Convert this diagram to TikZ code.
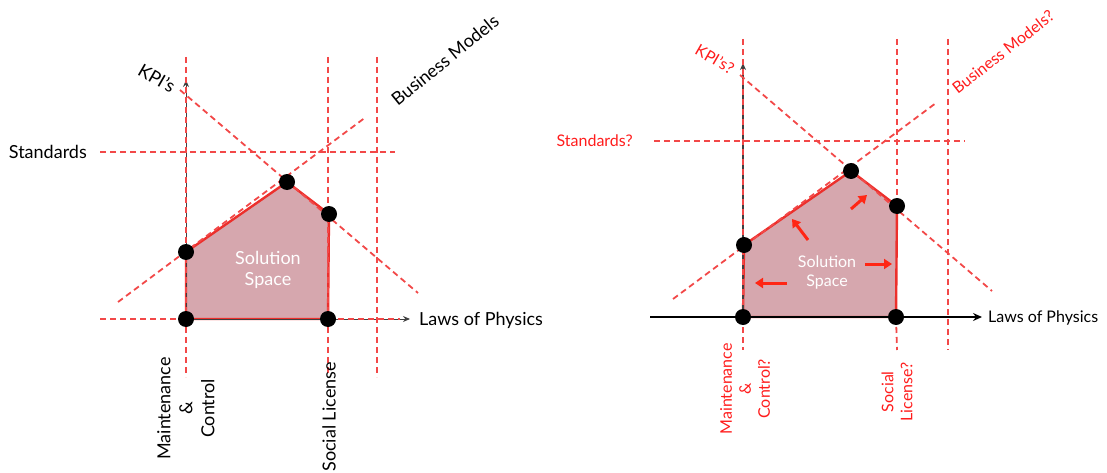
\documentclass[tikz,border=0pt]{standalone}
\usepackage{fontspec}
\setmainfont{Lato}
\usetikzlibrary{arrows.meta}
\definecolor{dashred}{RGB}{242,72,72}
\definecolor{edgered}{RGB}{236,48,44}
\definecolor{fillmauve}{RGB}{214,167,174}
\definecolor{arrred}{RGB}{255,38,20}
\definecolor{labred}{RGB}{255,28,28}
\tikzset{
  guide/.style={dashred, line width=1.8pt, dash pattern=on 6pt off 4pt},
  polyedge/.style={edgered, line width=2.4pt, line join=round},
  dot/.style={circle, fill=black, inner sep=0pt, minimum size=16pt},
  biglbl/.style={font=\fontsize{18}{22}\selectfont, inner sep=0pt},
  smalllbl/.style={font=\fontsize{16}{19}\selectfont, inner sep=0pt, text=labred},
  axisthin/.style={black!75, line width=1pt, -{Stealth[length=7pt,width=6pt]}},
  axisthick/.style={black, line width=2.2pt, -{Stealth[length=9pt,width=8pt]}},
  move/.style={arrred, line width=3pt, -{Triangle[length=8pt,width=10pt]}},
  inlbl/.style={text=white, align=center, inner sep=0pt}
}
\begin{document}
\begin{tikzpicture}[x=1pt,y=-1pt]
\useasboundingbox (0,0) rectangle (1107,473);
% ---------------- left diagram ----------------
\coordinate (O1) at (186,319);
\coordinate (A1) at (186,252);
\coordinate (T1) at (287,182);
\coordinate (R1) at (329,214);
\coordinate (S1) at (328,319);
\coordinate (ytip1) at (186,80);
\coordinate (xtip1) at (410,319);
\fill[fillmauve] (O1) -- (A1) -- (T1) -- (R1) -- (S1) -- cycle;
\draw[polyedge] (O1) -- (A1) -- (T1) -- (R1) -- (S1) -- cycle;
\draw[axisthin] (O1) -- (ytip1);
\draw[axisthin] (O1) -- (xtip1);
% guides
\coordinate (gv1t) at (186,57);  \coordinate (gv1b) at (186,377);
\coordinate (gv2t) at (328,57);  \coordinate (gv2b) at (328,377);
\coordinate (gv3t) at (377,57);  \coordinate (gv3b) at (377,377);
\coordinate (gs1l) at (100,152); \coordinate (gs1r) at (395,152);
\coordinate (gp1l) at (100,319); \coordinate (gp1r) at (400,319);
\coordinate (gu1a) at (118,302); \coordinate (gu1b) at (366,117);
\coordinate (gd1a) at (180,90);  \coordinate (gd1b) at (418,293);
\draw[guide] (gv1t) -- (gv1b);
\draw[guide] (gv2t) -- (gv2b);
\draw[guide] (gv3t) -- (gv3b);
\draw[guide] (gs1l) -- (gs1r);
\draw[guide] (gp1l) -- (O1);
\draw[guide] (S1) -- (gp1r);
\draw[guide] (gu1a) -- (gu1b);
\draw[guide] (gd1a) -- (gd1b);
\node[dot] (dO1) at (O1) {};
\node[dot] (dA1) at (A1) {};
\node[dot] (dT1) at (T1) {};
\node[dot] (dR1) at (R1) {};
\node[dot] (dS1) at (S1) {};
\node[inlbl, font=\fontsize{18}{21}\selectfont] (sol1) at (268,270) {Solution\\Space};
\node[biglbl, anchor=east] (std1) at (87,152) {Standards};
\node[biglbl, rotate=-30] (kpi1) at (157,78) {KPI’s};
\node[biglbl, rotate=39] (bm1) at (445,60) {Business Models};
\node[biglbl, anchor=west] (lp1) at (419,320) {Laws of Physics};
\node[biglbl, rotate=90, align=center, anchor=east] (mc1) at (186,357) {Maintenance\\\&\\Control};
\node[biglbl, rotate=90, anchor=east] (sl1) at (329,362) {Social License};
% ---------------- right diagram ----------------
\coordinate (O2) at (743,317);
\coordinate (A2) at (744,245);
\coordinate (T2) at (851,171);
\coordinate (R2) at (897,206);
\coordinate (S2) at (896,317);
\coordinate (ytip2) at (743,63);
\coordinate (xtail2) at (650,317);
\coordinate (xtip2) at (982,317);
\fill[fillmauve] (O2) -- (A2) -- (T2) -- (R2) -- (S2) -- cycle;
\draw[polyedge] (O2) -- (A2) -- (T2) -- (R2) -- (S2) -- cycle;
\draw[axisthin, line width=1.6pt] (O2) -- (ytip2);
\draw[axisthick] (xtail2) -- (xtip2);
\coordinate (gv4t) at (743,39);  \coordinate (gv4b) at (743,350);
\coordinate (gv5t) at (897,39);  \coordinate (gv5b) at (897,350);
\coordinate (gv6t) at (948,39);  \coordinate (gv6b) at (948,350);
\coordinate (gs2l) at (654,141); \coordinate (gs2r) at (965,141);
\coordinate (gu2a) at (673,299); \coordinate (gu2b) at (936,103);
\coordinate (gd2a) at (740,75);  \coordinate (gd2b) at (992,291);
\draw[guide] (gv4t) -- (O2);
\draw[guide] (O2) -- (gv4b);
\draw[guide] (gv5t) -- (R2);
\draw[guide] (S2) -- (gv5b);
\draw[guide] (gv6t) -- (gv6b);
\draw[guide] (gs2l) -- (gs2r);
\draw[guide] (gu2a) -- (gu2b);
\draw[guide] (gd2a) -- (gd2b);
% movement arrows
\coordinate (m1a) at (787,283); \coordinate (m1b) at (755,283);
\coordinate (m2a) at (865,264); \coordinate (m2b) at (892,264);
\coordinate (m3a) at (808,240); \coordinate (m3b) at (792,219);
\coordinate (m4a) at (851,209); \coordinate (m4b) at (867,195);
\draw[move] (m1a) -- (m1b);
\draw[move] (m2a) -- (m2b);
\draw[move] (m3a) -- (m3b);
\draw[move] (m4a) -- (m4b);
\node[dot] (dO2) at (O2) {};
\node[dot] (dA2) at (A2) {};
\node[dot] (dT2) at (T2) {};
\node[dot] (dR2) at (R2) {};
\node[dot] (dS2) at (S2) {};
\node[inlbl, font=\fontsize{16}{19}\selectfont] (sol2) at (827,272) {Solution\\Space};
\node[smalllbl, anchor=east] (std2) at (633,141) {Standards?};
\node[smalllbl, rotate=-30] (kpi2) at (715,59) {KPI’s?};
\node[smalllbl, rotate=38] (bm2) at (1003,52) {Business Models?};
\node[smalllbl, text=black, anchor=west] (lp2) at (988,318) {Laws of Physics};
\node[smalllbl, rotate=90, align=center, anchor=east] (mc2) at (745,343) {Maintenance\\\&\\Control?};
\node[smalllbl, rotate=90, align=center, anchor=east] (sl2) at (897,362) {Social\\License?};
\end{tikzpicture}
\end{document}
